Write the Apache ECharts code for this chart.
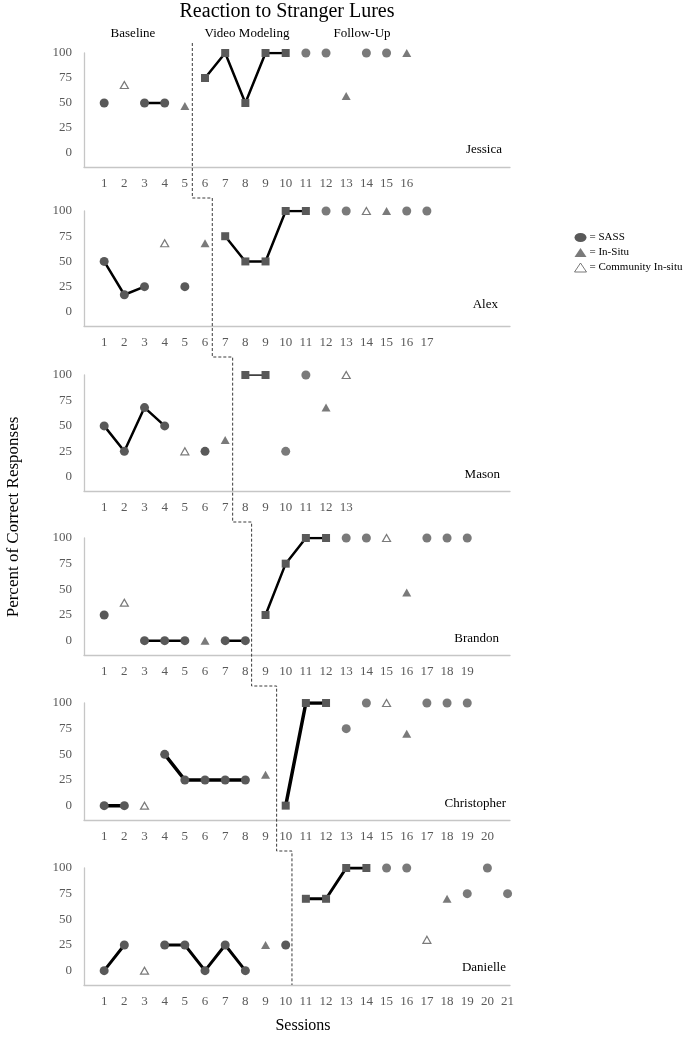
<!DOCTYPE html>
<html><head><meta charset="utf-8">
<script src="https://cdn.jsdelivr.net/npm/echarts@6/dist/echarts.min.js"></script>
<style>html,body{margin:0;padding:0;background:#fff}#c{width:685px;height:1039px}</style>
</head><body><div id="c"></div>
<script>
// ---------------- DATA ----------------
const participants = ['Jessica', 'Alex', 'Mason', 'Brandon', 'Christopher', 'Danielle'];
const sessionCounts = [16, 17, 13, 19, 20, 21];
// phase change (Baseline -> Video Modeling) position, in session units
const phaseChange = [5.37, 6.36, 7.37, 8.31, 9.55, 10.31];
const yTicks = [0, 25, 50, 75, 100];

// Values per session (index 0 = session 1); null = no probe of that kind
const jessicaSass      = [50, null, 50, 50, null, null, null, null, null, null, 100, 100, null, 100, 100, null];
const jessicaInSitu    = [null, null, null, null, 47, null, null, null, null, null, null, null, 57, null, null, 100];
const jessicaCommunity = [null, 68];
const jessicaVideo     = [null, null, null, null, null, 75, 100, 50, 100, 100];

const alexSass      = [50, 17, 25, null, 25, null, null, null, null, null, null, 100, 100, null, null, 100, 100];
const alexInSitu    = [null, null, null, null, null, 68, null, null, null, null, null, null, null, null, 100];
const alexCommunity = [null, null, null, 68, null, null, null, null, null, null, null, null, null, 100];
const alexVideo     = [null, null, null, null, null, null, 75, 50, 50, 100, 100];

const masonSass      = [50, 25, 68, 50, null, 25, null, null, null, 25, 100];
const masonInSitu    = [null, null, null, null, null, null, 36, null, null, null, null, 68];
const masonCommunity = [null, null, null, null, 25, null, null, null, null, null, null, null, 100];
const masonVideo     = [null, null, null, null, null, null, null, 100, 100];

const brandonSass      = [25, null, 0, 0, 0, null, 0, 0, null, null, null, null, 100, 100, null, null, 100, 100, 100];
const brandonInSitu    = [null, null, null, null, null, 0, null, null, null, null, null, null, null, null, null, 47];
const brandonCommunity = [null, 37, null, null, null, null, null, null, null, null, null, null, null, null, 100];
const brandonVideo     = [null, null, null, null, null, null, null, null, 25, 75, 100, 100];

const christopherSass      = [0, 0, null, 50, 25, 25, 25, 25, null, null, null, null, 75, 100, null, null, 100, 100, 100];
const christopherInSitu    = [null, null, null, null, null, null, null, null, 30, null, null, null, null, null, null, 70];
const christopherCommunity = [null, null, 0, null, null, null, null, null, null, null, null, null, null, null, 100];
const christopherVideo     = [null, null, null, null, null, null, null, null, null, 0, 100, 100];

const danielleSass      = [0, 25, null, 25, 25, 0, 25, 0, null, 25, null, null, null, null, 100, 100, null, null, 75, 100, 75];
const danielleInSitu    = [null, null, null, null, null, null, null, null, 25, null, null, null, null, null, null, null, null, 70];
const danielleCommunity = [null, null, 0, null, null, null, null, null, null, null, null, null, null, null, null, null, 30];
const danielleVideo     = [null, null, null, null, null, null, null, null, null, null, 70, 70, 100, 100];

const sassSets      = [jessicaSass, alexSass, masonSass, brandonSass, christopherSass, danielleSass];
const inSituSets    = [jessicaInSitu, alexInSitu, masonInSitu, brandonInSitu, christopherInSitu, danielleInSitu];
const communitySets = [jessicaCommunity, alexCommunity, masonCommunity, brandonCommunity, christopherCommunity, danielleCommunity];
const videoSets     = [jessicaVideo, alexVideo, masonVideo, brandonVideo, christopherVideo, danielleVideo];

// ---------------- LAYOUT / STYLE ----------------
const SERIF = 'Liberation Serif, Times New Roman, serif';
const MARK = '#595959';
const AXIS = '#c6c6c6';
const GRID_LEFT = 84, GRID_WIDTH = 426, X_MAX = 21.12, Y_MIN = -14;
const panelTops = [53, 211, 375, 538, 703, 868];
const panelHeights = [114, 115, 116, 117, 117, 117];
const lineWidths = [2.5, 2.5, 2.5, 2.5, 3.5, 3];
const namePos = [[502, 150], [498, 305], [500, 475], [499, 639], [506, 804], [506, 968]];

const chart = echarts.init(document.getElementById('c'), null, {renderer: 'canvas'});

const grids = [], xAxes = [], yAxes = [], series = [];
function pts(arr, n, keep) {
  const out = [];
  for (let s = 1; s <= n; s++) {
    const v = arr[s - 1];
    out.push([s, (v == null || !keep(s)) ? null : v]);
  }
  return out;
}
participants.forEach((name, p) => {
  const n = sessionCounts[p];
  const ph = phaseChange[p];
  grids.push({left: GRID_LEFT, width: GRID_WIDTH, top: panelTops[p], height: panelHeights[p], containLabel: false});
  xAxes.push({
    gridIndex: p, type: 'value', min: 0, max: X_MAX, interval: 1,
    axisLine: {show: true, onZero: false, lineStyle: {color: AXIS, width: 1.3}},
    axisTick: {show: false}, splitLine: {show: false},
    axisLabel: {margin: 10, color: MARK, fontFamily: SERIF, fontSize: 13,
      formatter: v => (Number.isInteger(v) && v >= 1 && v <= n) ? String(v) : ''}
  });
  yAxes.push({
    gridIndex: p, type: 'value', min: Y_MIN, max: 100, interval: 1,
    axisLine: {show: true, onZero: false, lineStyle: {color: AXIS, width: 1.3}},
    axisTick: {show: false}, splitLine: {show: false},
    axisLabel: {margin: 12, color: MARK, fontFamily: SERIF, fontSize: 13,
      formatter: v => yTicks.indexOf(v) >= 0 ? String(v) : ''}
  });
  const common = {xAxisIndex: p, yAxisIndex: p, silent: true, animation: false};
  series.push(Object.assign({
    type: 'line', name: 'SASS', data: pts(sassSets[p], n, s => s < ph),
    symbol: 'circle', symbolSize: 9, showSymbol: true, connectNulls: false,
    itemStyle: {color: MARK}, lineStyle: {color: '#000', width: lineWidths[p]}, z: 3
  }, common));
  series.push(Object.assign({
    type: 'scatter', name: 'SASS', data: pts(sassSets[p], n, s => s > ph),
    symbol: 'circle', symbolSize: 9, itemStyle: {color: MARK}, z: 3
  }, common));
  series.push(Object.assign({
    type: 'line', name: 'Video Modeling', data: pts(videoSets[p], n, s => true),
    symbol: 'rect', symbolSize: 8, showSymbol: true, connectNulls: false,
    itemStyle: {color: MARK}, lineStyle: {color: '#000', width: p === 2 ? 1.6 : lineWidths[p]}, z: 3
  }, common));
  series.push(Object.assign({
    type: 'scatter', name: 'In-Situ', data: pts(inSituSets[p], n, s => true),
    symbol: 'triangle', symbolSize: [9, 8], itemStyle: {color: MARK}, z: 3
  }, common));
  series.push(Object.assign({
    type: 'scatter', name: 'Community In-situ', data: pts(communitySets[p], n, s => true),
    symbol: 'triangle', symbolSize: [8, 7],
    itemStyle: {color: '#fff', borderColor: MARK, borderWidth: 1.2}, z: 3
  }, common));
});

chart.setOption({
  backgroundColor: '#fff',
  animation: false,
  grid: grids, xAxis: xAxes, yAxis: yAxes, series: series,
  legend: {
    orient: 'vertical', left: 574, top: 232, itemWidth: 12, itemHeight: 9, itemGap: 4,
    padding: 0,
    selectedMode: false,
    textStyle: {fontFamily: SERIF, fontSize: 11, color: '#000', padding: [0, 0, 0, -2]},
    formatter: nm => '= ' + nm,
    data: [
      {name: 'SASS', icon: 'path://M0 5A6 4.5 0 1 1 12 5A6 4.5 0 1 1 0 5Z', itemStyle: {color: MARK}},
      {name: 'In-Situ', icon: 'triangle', itemStyle: {color: MARK}},
      {name: 'Community In-situ', icon: 'triangle', itemStyle: {color: '#fff', borderColor: MARK, borderWidth: 1}}
    ]
  }
});

// ---------- annotations: texts and the stepped phase-change line ----------
const g = [];
g.push({type: 'text', style: {text: 'Reaction to Stranger Lures', x: 287, y: 12, align: 'center', verticalAlign: 'middle', font: '20px ' + SERIF, fill: '#000'}});
[['Baseline', 133], ['Video Modeling', 247], ['Follow-Up', 362]].forEach(([t, x]) => {
  g.push({type: 'text', style: {text: t, x: x, y: 34, align: 'center', verticalAlign: 'middle', font: '13px ' + SERIF, fill: '#000'}});
});
participants.forEach((nm, p) => {
  g.push({type: 'text', style: {text: nm, x: namePos[p][0], y: namePos[p][1], align: 'right', verticalAlign: 'middle', font: '13px ' + SERIF, fill: '#000'}});
});
g.push({type: 'text', x: 14, y: 517, rotation: Math.PI / 2, style: {text: 'Percent of Correct Responses', x: 0, y: 0, align: 'center', verticalAlign: 'middle', font: '17px ' + SERIF, fill: '#000'}});
g.push({type: 'text', style: {text: 'Sessions', x: 303, y: 1026, align: 'center', verticalAlign: 'middle', font: '16px ' + SERIF, fill: '#000'}});

const pl = [];
participants.forEach((nm, p) => {
  const x = chart.convertToPixel({xAxisIndex: p}, phaseChange[p]);
  const yTop = chart.convertToPixel({yAxisIndex: p}, 100);
  const yBot = chart.convertToPixel({yAxisIndex: p}, Y_MIN);
  if (p === 0) pl.push([x, yTop - 10]);
  else pl.push([x, pl[pl.length - 1][1]]);
  if (p < participants.length - 1) pl.push([x, yBot + 31]);
  else pl.push([x, yBot]);
});
g.push({type: 'polyline', silent: true, z: 10, shape: {points: pl}, style: {stroke: '#3a3a3a', lineWidth: 1, lineDash: [3, 2], fill: null}});

chart.setOption({graphic: g});
</script>
</body></html>
